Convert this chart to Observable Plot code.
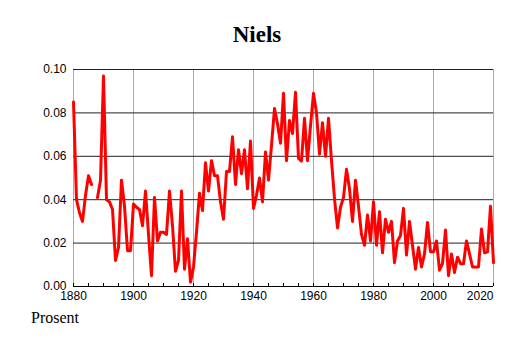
<!DOCTYPE html>
<html>
<head>
<meta charset="utf-8">
<script src="https://cdn.jsdelivr.net/npm/d3@7"></script>
<script src="https://cdn.jsdelivr.net/npm/@observablehq/plot@0.6"></script>
<style>
  html, body { margin: 0; padding: 0; background: #fff; }
  #wrap { position: relative; width: 514px; height: 343px; overflow: hidden; }
  #title { position: absolute; left: 0; top: 23px; width: 514px; text-align: center;
           font: bold 23px/23px "Liberation Serif", "Times New Roman", serif; color: #000; }
  #chart { position: absolute; left: 0; top: 55px; }
  #cap { position: absolute; left: 31px; top: 310px; font: 16px/16px "Liberation Serif", "Times New Roman", serif; color: #000; }
</style>
</head>
<body>
<div id="wrap">
  <div id="title">Niels</div>
  <div id="chart"></div>
  <div id="cap">Prosent</div>
</div>
<script>
const titleText = "Niels";
const captionText = "Prosent";
const firstYear = 1880;
const lastYear = 2020;
const values = [
  0.085, 0.040, 0.034, 0.030, 0.042, 0.051, 0.047, null, 0.041, 0.049,   // 1880-1889
  0.097, 0.040, 0.039, 0.0355, 0.012, 0.018, 0.049, 0.037, 0.0165, 0.0165, // 1890-1899
  0.038, 0.0365, 0.0355, 0.028, 0.044, 0.024, 0.005, 0.041, 0.021, 0.025, // 1900-1909
  0.025, 0.024, 0.044, 0.028, 0.007, 0.012, 0.044, 0.008, 0.022, 0.002,   // 1910-1919
  0.009, 0.025, 0.043, 0.035, 0.057, 0.044, 0.058, 0.051, 0.051, 0.039,   // 1920-1929
  0.031, 0.053, 0.053, 0.069, 0.047, 0.063, 0.052, 0.063, 0.045, 0.067,   // 1930-1939
  0.036, 0.042, 0.050, 0.039, 0.062, 0.049, 0.065, 0.082, 0.075, 0.066,   // 1940-1949
  0.089, 0.058, 0.0765, 0.0705, 0.0895, 0.059, 0.0578, 0.0775, 0.058, 0.074, // 1950-1959
  0.089, 0.080, 0.061, 0.0755, 0.060, 0.0775, 0.058, 0.0405, 0.027, 0.0365, // 1960-1969
  0.041, 0.054, 0.045, 0.030, 0.049, 0.037, 0.024, 0.019, 0.033, 0.021,   // 1970-1979
  0.039, 0.019, 0.0345, 0.0155, 0.031, 0.025, 0.030, 0.011, 0.021, 0.0235, // 1980-1989
  0.036, 0.0145, 0.030, 0.019, 0.008, 0.018, 0.009, 0.015, 0.0295, 0.016, // 1990-1999
  0.016, 0.021, 0.0075, 0.0105, 0.026, 0.005, 0.015, 0.0065, 0.0135, 0.0105, // 2000-2009
  0.0105, 0.021, 0.015, 0.009, 0.009, 0.009, 0.0265, 0.0155, 0.016, 0.037, // 2010-2019
  0.011                                                                   // 2020
];
const xTicks = [1880, 1900, 1920, 1940, 1960, 1980, 2000, 2020];
const xMinorTicks = d3.range(1880, 2021, 5);
const yTicks = [0, 0.02, 0.04, 0.06, 0.08, 0.10];
const yGrid = [0.02, 0.04, 0.06, 0.08, 0.10];

document.getElementById("title").textContent = titleText;
document.getElementById("cap").textContent = captionText;

const data = values.map((v, i) => ({year: firstYear + i, value: v}));

const chart = Plot.plot({
  width: 514,
  height: 250,
  marginTop: 14,
  marginBottom: 19,
  marginLeft: 73,
  marginRight: 21,
  style: {background: "white", overflow: "visible"},
  x: {domain: [firstYear, lastYear], axis: null},
  y: {domain: [0, 0.10], axis: null},
  marks: [
    Plot.ruleX(xTicks, {stroke: "#aaaaaa", strokeWidth: 1}),
    Plot.ruleY(yGrid, {stroke: "#222", strokeWidth: 1}),
    Plot.ruleY([0], {stroke: "#000", strokeWidth: 1.2}),
    Plot.axisX({ticks: xMinorTicks, tickSize: 3, dy: -3, tickFormat: () => "", label: null, stroke: "#000"}),
    Plot.axisX({ticks: xTicks.slice(0, -1), tickSize: 0, tickPadding: 5, tickFormat: d => String(d), label: null,
      fontSize: 12, fontFamily: "'Liberation Sans Narrow', 'Arial Narrow', 'Liberation Sans', sans-serif", fill: "#000"}),
    Plot.axisX({ticks: xTicks.slice(-1), tickSize: 0, tickPadding: 5, tickFormat: d => String(d), label: null,
      textAnchor: "end", fontSize: 12, fontFamily: "'Liberation Sans Narrow', 'Arial Narrow', 'Liberation Sans', sans-serif", fill: "#000"}),
    Plot.axisY({ticks: yTicks, tickSize: 0, tickPadding: 7, tickFormat: d3.format(".2f"), label: null,
      fontSize: 12, fontFamily: "'Liberation Sans', Arial, sans-serif", fill: "#000"}),
    Plot.line(data, {x: "year", y: "value", stroke: "#ff0000", strokeWidth: 3, defined: d => d.value != null})
  ]
});
document.getElementById("chart").appendChild(chart);
</script>
</body>
</html>
